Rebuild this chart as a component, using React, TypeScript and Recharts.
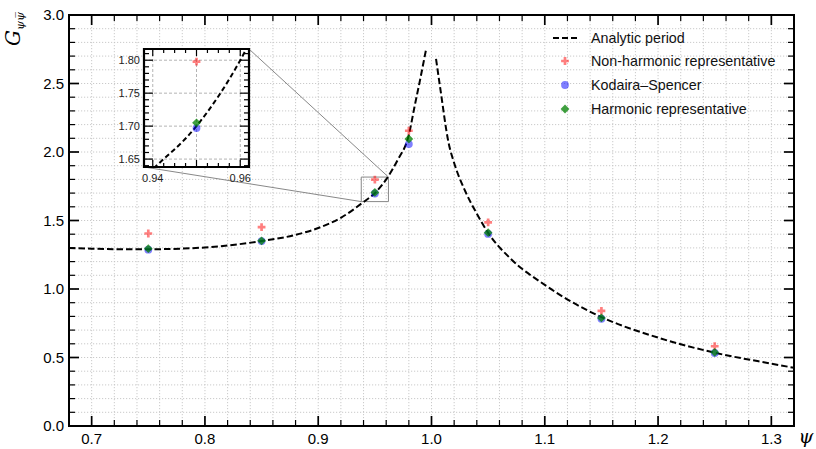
import React from "react";
import {
  ComposedChart,
  Line,
  Scatter,
  XAxis,
  YAxis,
  CartesianGrid,
  ReferenceArea,
} from "recharts";

// Analytic period, split into the two branches on either side of psi = 1
const periodLeftX = [0.68, 0.7, 0.72, 0.75, 0.78, 0.8, 0.85, 0.88, 0.9, 0.92, 0.94, 0.95, 0.96, 0.97, 0.98, 0.985, 0.99, 0.995];
const periodLeftY = [1.3, 1.294, 1.291, 1.29, 1.295, 1.303, 1.35, 1.395, 1.445, 1.52, 1.635, 1.7, 1.8, 1.94, 2.125, 2.33, 2.53, 2.74];
const periodRightX = [1.004, 1.008, 1.015, 1.02, 1.03, 1.04, 1.05, 1.07, 1.1, 1.125, 1.15, 1.2, 1.25, 1.3, 1.32];
const periodRightY = [2.68, 2.45, 2.07, 1.92, 1.71, 1.55, 1.41, 1.22, 1.03, 0.9, 0.795, 0.645, 0.535, 0.455, 0.425];

// Numerical results at the sample points
const sampleX = [0.75, 0.85, 0.95, 0.98, 1.05, 1.15, 1.25];
const nonHarmonic = [1.405, 1.452, 1.798, 2.155, 1.487, 0.84, 0.582];
const kodairaSpencer = [1.287, 1.35, 1.697, 2.058, 1.402, 0.783, 0.533];
const harmonic = [1.294, 1.352, 1.705, 2.095, 1.411, 0.789, 0.538];

// Axis ticks
const xDomain = [0.68, 1.32];
const yDomain = [0, 3];
const ticksX = [0.68, 0.7, 0.72, 0.74, 0.76, 0.78, 0.8, 0.82, 0.84, 0.86, 0.88, 0.9, 0.92, 0.94, 0.96, 0.98, 1.0, 1.02, 1.04, 1.06, 1.08, 1.1, 1.12, 1.14, 1.16, 1.18, 1.2, 1.22, 1.24, 1.26, 1.28, 1.3, 1.32];
const majorX = [0.7, 0.8, 0.9, 1.0, 1.1, 1.2, 1.3];
const ticksY = [0, 0.1, 0.2, 0.3, 0.4, 0.5, 0.6, 0.7, 0.8, 0.9, 1.0, 1.1, 1.2, 1.3, 1.4, 1.5, 1.6, 1.7, 1.8, 1.9, 2.0, 2.1, 2.2, 2.3, 2.4, 2.5, 2.6, 2.7, 2.8, 2.9, 3.0];
const majorY = [0, 0.5, 1.0, 1.5, 2.0, 2.5, 3.0];

// Zoomed window
const insetXDomain = [0.938, 0.962];
const insetYDomain = [1.638, 1.817];
const insetTicksX = [0.94, 0.9425, 0.945, 0.9475, 0.95, 0.9525, 0.955, 0.9575, 0.96];
const insetMajorX = [0.94, 0.95, 0.96];
const insetLabelX = [0.94, 0.96];
const insetTicksY = [1.64, 1.65, 1.66, 1.67, 1.68, 1.69, 1.7, 1.71, 1.72, 1.73, 1.74, 1.75, 1.76, 1.77, 1.78, 1.79, 1.8, 1.81];
const insetMajorY = [1.65, 1.7, 1.75, 1.8];

const legendLabels = [
  "Analytic period",
  "Non-harmonic representative",
  "Kodaira\u2013Spencer",
  "Harmonic representative",
];

const W = 816;
const H = 449;
const PLOT = { left: 69, top: 15, right: 794, bottom: 426 };
const INSET_BOX = { left: 110, top: 47, width: 143, height: 140 };
const INSET_AXIS_W = 34;
const INSET_AXIS_H = 20;
const INSET_PLOT = {
  left: INSET_AXIS_W,
  top: 2,
  right: INSET_BOX.width - 4,
  bottom: INSET_BOX.height - INSET_AXIS_H,
};

const SANS = "'Liberation Sans', Arial, sans-serif";
const SERIF = "'DejaVu Serif', 'Liberation Serif', serif";

const RED = "#ff0000";
const BLUE = "#0000ff";
const GREEN = "#008000";

const toPoints = (xs: number[], ys: number[]) => xs.map((x, i) => ({ x, y: ys[i] }));
const leftCurve = toPoints(periodLeftX, periodLeftY);
const rightCurve = toPoints(periodRightX, periodRightY);
const nonHarmonicPts = toPoints(sampleX, nonHarmonic);
const kodairaPts = toPoints(sampleX, kodairaSpencer);
const harmonicPts = toPoints(sampleX, harmonic);

const has = (list: number[], v: number) => list.some((m) => Math.abs(m - v) < 1e-9);

// main-chart data -> pixel, used for the connector lines only
const px = (x: number) =>
  PLOT.left + ((x - xDomain[0]) / (xDomain[1] - xDomain[0])) * (PLOT.right - PLOT.left);
const py = (y: number) =>
  PLOT.bottom - ((y - yDomain[0]) / (yDomain[1] - yDomain[0])) * (PLOT.bottom - PLOT.top);

function PlusMark({ cx, cy, r = 3.9, t = 1.35 }: any) {
  const p = [
    [cx - t, cy - r], [cx + t, cy - r], [cx + t, cy - t], [cx + r, cy - t],
    [cx + r, cy + t], [cx + t, cy + t], [cx + t, cy + r], [cx - t, cy + r],
    [cx - t, cy + t], [cx - r, cy + t], [cx - r, cy - t], [cx - t, cy - t],
  ];
  return <polygon points={p.map((q) => q.join(",")).join(" ")} fill={RED} fillOpacity={0.5} />;
}

function DotMark({ cx, cy, r = 3.9 }: any) {
  return <circle cx={cx} cy={cy} r={r} fill={BLUE} fillOpacity={0.5} />;
}

function DiamondMark({ cx, cy, r = 4.4 }: any) {
  const pts = `${cx},${cy - r} ${cx + r},${cy} ${cx},${cy + r} ${cx - r},${cy}`;
  return <polygon points={pts} fill={GREEN} fillOpacity={0.75} />;
}

// ticks point inward on all four sides of the frame
function MainXTick(props: any) {
  const { x, payload } = props;
  const v = payload.value;
  const major = has(majorX, v);
  const len = major ? 10 : 6;
  const sw = major ? 1.7 : 1.2;
  return (
    <g>
      <line x1={x} x2={x} y1={PLOT.bottom} y2={PLOT.bottom - len} stroke="#000" strokeWidth={sw} />
      <line x1={x} x2={x} y1={PLOT.top} y2={PLOT.top + len} stroke="#000" strokeWidth={sw} />
      {major && (
        <text x={x} y={PLOT.bottom + 18} textAnchor="middle" fontFamily={SANS} fontSize={15} fill="#000">
          {v.toFixed(1)}
        </text>
      )}
    </g>
  );
}

function MainYTick(props: any) {
  const { y, payload } = props;
  const v = payload.value;
  const major = has(majorY, v);
  const len = major ? 10 : 6;
  const sw = major ? 1.7 : 1.2;
  return (
    <g>
      <line x1={PLOT.left} x2={PLOT.left + len} y1={y} y2={y} stroke="#000" strokeWidth={sw} />
      <line x1={PLOT.right} x2={PLOT.right - len} y1={y} y2={y} stroke="#000" strokeWidth={sw} />
      {major && (
        <text x={PLOT.left - 5} y={y} dy="0.36em" textAnchor="end" fontFamily={SANS} fontSize={15} fill="#000">
          {v.toFixed(1)}
        </text>
      )}
    </g>
  );
}

function InsetXTick(props: any) {
  const { x, payload } = props;
  const v = payload.value;
  const major = has(insetMajorX, v);
  const len = major ? 7 : 4;
  return (
    <g>
      <line x1={x} x2={x} y1={INSET_PLOT.bottom} y2={INSET_PLOT.bottom - len} stroke="#000" strokeWidth={1.2} />
      <line x1={x} x2={x} y1={INSET_PLOT.top} y2={INSET_PLOT.top + len} stroke="#000" strokeWidth={1.2} />
      {has(insetLabelX, v) && (
        <text x={x} y={INSET_PLOT.bottom + 15} textAnchor="middle" fontFamily={SANS} fontSize={11} fill="#222">
          {v.toFixed(2)}
        </text>
      )}
    </g>
  );
}

function InsetYTick(props: any) {
  const { y, payload } = props;
  const v = payload.value;
  const major = has(insetMajorY, v);
  const len = major ? 9 : 5;
  return (
    <g>
      <line x1={INSET_PLOT.left} x2={INSET_PLOT.left + len} y1={y} y2={y} stroke="#000" strokeWidth={1.2} />
      <line x1={INSET_PLOT.right} x2={INSET_PLOT.right - len} y1={y} y2={y} stroke="#000" strokeWidth={1.2} />
      {major && (
        <text x={INSET_PLOT.left - 4} y={y} dy="0.36em" textAnchor="end" fontFamily={SANS} fontSize={11} fill="#222">
          {v.toFixed(2)}
        </text>
      )}
    </g>
  );
}

function LegendBox() {
  const icons = [
    <line key="l" x1={3} x2={27} y1={7} y2={7} stroke="#000" strokeWidth={2} strokeDasharray="6 3" />,
    <PlusMark key="p" cx={15} cy={7} />,
    <DotMark key="d" cx={15} cy={7} />,
    <DiamondMark key="m" cx={15} cy={7} />,
  ];
  return (
    <div style={{ position: "absolute", left: 550, top: 26, fontFamily: SANS, fontSize: 14.3, color: "#111" }}>
      {legendLabels.map((label, i) => (
        <div key={label} style={{ display: "flex", alignItems: "center", height: 23.6 }}>
          <svg width={30} height={14} style={{ marginRight: 11 }}>
            {icons[i]}
          </svg>
          <span style={{ whiteSpace: "nowrap" }}>{label}</span>
        </div>
      ))}
    </div>
  );
}

export default function App() {
  return (
    <div style={{ position: "absolute", left: 0, top: 0, width: W, height: H, background: "#fff" }}>
      <ComposedChart
        width={W}
        height={H}
        margin={{ top: PLOT.top, right: W - PLOT.right, bottom: 0, left: 0 }}
      >
        <CartesianGrid
          verticalValues={ticksX}
          horizontalValues={ticksY}
          stroke="#c4c4c4"
          strokeWidth={0.9}
          strokeDasharray="1.2 1.8"
        />
        <XAxis
          type="number"
          dataKey="x"
          domain={xDomain}
          ticks={ticksX}
          interval={0}
          allowDataOverflow
          height={H - PLOT.bottom}
          axisLine={false}
          tickLine={false}
          tick={MainXTick}
        />
        <YAxis
          type="number"
          dataKey="y"
          domain={yDomain}
          ticks={ticksY}
          interval={0}
          allowDataOverflow
          width={PLOT.left}
          axisLine={false}
          tickLine={false}
          tick={MainYTick}
        />
        <ReferenceArea
          x1={insetXDomain[0]}
          x2={insetXDomain[1]}
          y1={insetYDomain[0]}
          y2={insetYDomain[1]}
          fill="none"
          stroke="#888"
          strokeWidth={1}
        />
        <Line data={leftCurve} dataKey="y" type="monotone" stroke="#000" strokeWidth={2} strokeDasharray="6.5 3" dot={false} activeDot={false} isAnimationActive={false} />
        <Line data={rightCurve} dataKey="y" type="monotone" stroke="#000" strokeWidth={2} strokeDasharray="6.5 3" dot={false} activeDot={false} isAnimationActive={false} />
        <Scatter data={nonHarmonicPts} dataKey="y" shape={PlusMark} isAnimationActive={false} />
        <Scatter data={kodairaPts} dataKey="y" shape={DotMark} isAnimationActive={false} />
        <Scatter data={harmonicPts} dataKey="y" shape={DiamondMark} isAnimationActive={false} />
        <ReferenceArea
          x1={xDomain[0]}
          x2={xDomain[1]}
          y1={yDomain[0]}
          y2={yDomain[1]}
          fill="none"
          stroke="#000"
          strokeWidth={2}
        />
      </ComposedChart>

      <svg width={W} height={H} style={{ position: "absolute", left: 0, top: 0, pointerEvents: "none" }}>
        <line
          x1={INSET_BOX.left + INSET_PLOT.right}
          y1={INSET_BOX.top + INSET_PLOT.top}
          x2={px(insetXDomain[1])}
          y2={py(insetYDomain[1])}
          stroke="#888"
          strokeWidth={1}
        />
        <line
          x1={INSET_BOX.left + INSET_PLOT.left}
          y1={INSET_BOX.top + INSET_PLOT.bottom}
          x2={px(insetXDomain[0])}
          y2={py(insetYDomain[0])}
          stroke="#888"
          strokeWidth={1}
        />
        <text transform="translate(20,46) rotate(-90)" fontFamily={SERIF} fontStyle="italic" fontSize={20} fill="#000">
          G
          <tspan fontSize={11.5} dy={4}>
            {"\u03c8\u03c8\u0305"}
          </tspan>
        </text>
        <text x={806} y={443} textAnchor="middle" fontFamily={SERIF} fontStyle="italic" fontSize={19} fill="#000">
          {"\u03c8"}
        </text>
      </svg>

      <div style={{ position: "absolute", left: INSET_BOX.left, top: INSET_BOX.top }}>
        <ComposedChart
          width={INSET_BOX.width}
          height={INSET_BOX.height}
          margin={{ top: INSET_PLOT.top, right: INSET_BOX.width - INSET_PLOT.right, bottom: 0, left: 0 }}
        >
          <CartesianGrid
            verticalValues={insetMajorX}
            horizontalValues={insetMajorY}
            fill="#fff"
            fillOpacity={1}
            stroke="#b4b4b4"
            strokeDasharray="3 2"
          />
          <XAxis
            type="number"
            dataKey="x"
            domain={insetXDomain}
            ticks={insetTicksX}
            interval={0}
            allowDataOverflow
            height={INSET_AXIS_H}
            axisLine={false}
            tickLine={false}
            tick={InsetXTick}
          />
          <YAxis
            type="number"
            dataKey="y"
            domain={insetYDomain}
            ticks={insetTicksY}
            interval={0}
            allowDataOverflow
            width={INSET_AXIS_W}
            axisLine={false}
            tickLine={false}
            tick={InsetYTick}
          />
          <Line data={leftCurve} dataKey="y" type="monotone" stroke="#000" strokeWidth={2} strokeDasharray="5 3" dot={false} activeDot={false} isAnimationActive={false} />
          <Scatter data={nonHarmonicPts} dataKey="y" shape={PlusMark} isAnimationActive={false} />
          <Scatter data={kodairaPts} dataKey="y" shape={DotMark} isAnimationActive={false} />
          <Scatter data={harmonicPts} dataKey="y" shape={DiamondMark} isAnimationActive={false} />
          <ReferenceArea
            x1={insetXDomain[0]}
            x2={insetXDomain[1]}
            y1={insetYDomain[0]}
            y2={insetYDomain[1]}
            fill="none"
            stroke="#000"
            strokeWidth={2.2}
          />
        </ComposedChart>
      </div>

      <LegendBox />
    </div>
  );
}
